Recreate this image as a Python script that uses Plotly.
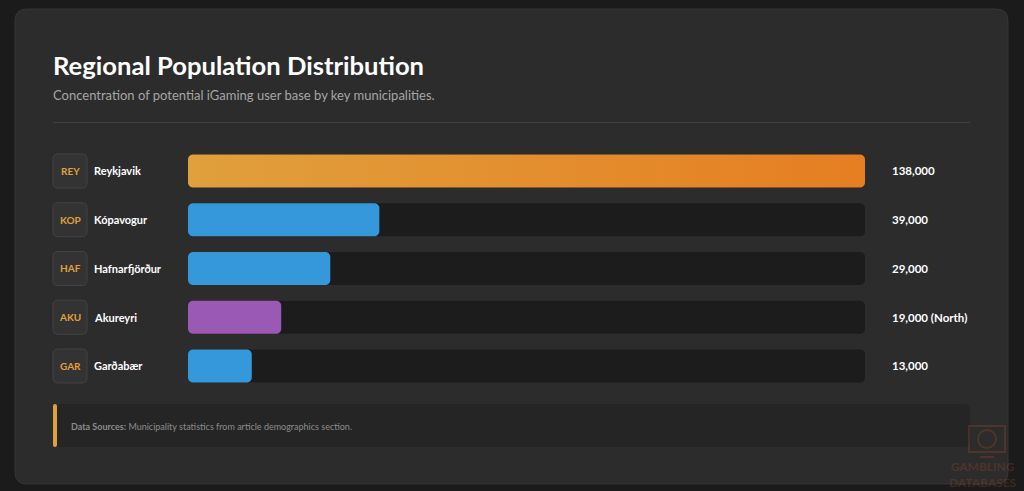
import math
import plotly.graph_objects as go

# ---------------- data ----------------
codes = ["REY", "KOP", "HAF", "AKU", "GAR"]
names = ["Reykjavik", "Kópavogur", "Hafnarfjörður", "Akureyri", "Garðabær"]
population = [138000, 39000, 29000, 19000, 13000]
value_labels = ["138,000", "39,000", "29,000", "19,000 (North)", "13,000"]
bar_colors = ["#e67e22", "#3498db", "#3498db", "#9b59b6", "#3498db"]
gradient_start = "#e0a03c"

TITLE = "Regional Population Distribution"
SUBTITLE = "Concentration of potential iGaming user base by key municipalities."

# ---------------- geometry (pixels) ----------------
W, H = 1024, 491
BAR_X0, BAR_X1 = 188, 865
ROW0, ROW_STEP = 171, 48.75
BAR_H = 33
n = len(names)
xmax = max(population)

def px(x):
    return x / W

def py(y):
    return 1 - y / H

def rr_path_px(x0, y0, x1, y1, r):
    """rounded rect path in paper coords, from pixel box"""
    return (f"M {px(x0+r)},{py(y0)} L {px(x1-r)},{py(y0)} "
            f"Q {px(x1)},{py(y0)} {px(x1)},{py(y0+r)} L {px(x1)},{py(y1-r)} "
            f"Q {px(x1)},{py(y1)} {px(x1-r)},{py(y1)} L {px(x0+r)},{py(y1)} "
            f"Q {px(x0)},{py(y1)} {px(x0)},{py(y1-r)} L {px(x0)},{py(y0+r)} "
            f"Q {px(x0)},{py(y0)} {px(x0+r)},{py(y0)} Z")

# data units per pixel
ux = xmax / (BAR_X1 - BAR_X0)
uy = 1 / ROW_STEP

def rounded_bar(v, row, r_px=5, half_h_px=BAR_H / 2, steps=8):
    rx = min(r_px * ux, v / 2)
    ry = r_px * uy
    hh = half_h_px * uy
    top, bot = row - hh, row + hh
    xs, ys = [], []
    corners = [
        (v - rx, top + ry, -math.pi / 2, 0),
        (v - rx, bot - ry, 0, math.pi / 2),
        (rx, bot - ry, math.pi / 2, math.pi),
        (rx, top + ry, math.pi, 1.5 * math.pi),
    ]
    for cx, cy, a0, a1 in corners:
        for k in range(steps + 1):
            a = a0 + (a1 - a0) * k / steps
            xs.append(cx + rx * math.cos(a))
            ys.append(cy + ry * math.sin(a))
    xs.append(xs[0]); ys.append(ys[0])
    return xs, ys

fig = go.Figure()

# tracks
for i in range(n):
    xs, ys = rounded_bar(xmax, i)
    fig.add_trace(go.Scatter(x=xs, y=ys, mode="lines", fill="toself",
                             fillcolor="#1c1c1c", line=dict(width=0, simplify=False),
                             hoverinfo="skip", showlegend=False))
# value bars
for i, v in enumerate(population):
    xs, ys = rounded_bar(v, i)
    kw = {}
    if i == 0:
        kw["fillgradient"] = dict(type="horizontal",
                                  colorscale=[[0, gradient_start], [1, bar_colors[0]]])
    fig.add_trace(go.Scatter(x=xs, y=ys, mode="lines", fill="toself",
                             fillcolor=bar_colors[i], line=dict(width=0, simplify=False),
                             hoverinfo="skip", showlegend=False, name=names[i], **kw))

shapes = []
# card
shapes.append(dict(type="path", xref="paper", yref="paper", layer="below",
                   path=rr_path_px(15, 9, 1008, 484, 12),
                   fillcolor="#2c2c2c", line=dict(color="#353535", width=1)))
# divider
shapes.append(dict(type="line", xref="paper", yref="paper", layer="below",
                   x0=px(53), x1=px(970), y0=py(122.5), y1=py(122.5),
                   line=dict(color="#404040", width=1)))
# badges
for i in range(n):
    cy = ROW0 + i * ROW_STEP
    shapes.append(dict(type="path", xref="paper", yref="paper", layer="below",
                       path=rr_path_px(53, cy - 17, 87, cy + 17, 5),
                       fillcolor="#333333", line=dict(color="#424242", width=1)))
# footnote box
shapes.append(dict(type="path", xref="paper", yref="paper", layer="below",
                   path=rr_path_px(53, 404, 970, 447, 6),
                   fillcolor="#252525", line=dict(width=0)))
shapes.append(dict(type="path", xref="paper", yref="paper", layer="below",
                   path=rr_path_px(53, 404, 57, 447, 2),
                   fillcolor="#e0a03c", line=dict(width=0)))
# watermark icon
wm = "rgba(170,75,40,0.28)"
shapes.append(dict(type="rect", xref="paper", yref="paper",
                   x0=px(969), x1=px(1005), y0=py(426), y1=py(452),
                   fillcolor="rgba(0,0,0,0)", line=dict(color=wm, width=2)))
shapes.append(dict(type="circle", xref="paper", yref="paper",
                   x0=px(978), x1=px(996), y0=py(430), y1=py(448),
                   fillcolor="rgba(0,0,0,0)", line=dict(color=wm, width=2)))
shapes.append(dict(type="line", xref="paper", yref="paper",
                   x0=px(980), x1=px(994), y0=py(457), y1=py(457),
                   line=dict(color=wm, width=2)))

ann = []
ann.append(dict(text=f"<b>{TITLE}</b>", x=px(51), y=py(65), xref="paper", yref="paper",
                xanchor="left", yanchor="middle", showarrow=False,
                font=dict(family="Lato", size=25.6, color="#ffffff")))
ann.append(dict(text=SUBTITLE, x=px(51), y=py(95), xref="paper", yref="paper",
                xanchor="left", yanchor="middle", showarrow=False,
                font=dict(family="Lato", size=13, color="#a6a6a6")))
for i in range(n):
    ann.append(dict(text=f"<b>{codes[i]}</b>", x=px(70), y=i, xref="paper", yref="y",
                    xanchor="center", yanchor="middle", showarrow=False,
                    font=dict(family="Lato", size=10, color="#e0a03c")))
    ann.append(dict(text=f"<b>{names[i]}</b>", x=px(92), y=i, xref="paper", yref="y",
                    xanchor="left", yanchor="middle", showarrow=False,
                    font=dict(family="Lato", size=11, color="#ffffff")))
    ann.append(dict(text=f"<b>{value_labels[i]}</b>", x=px(890), y=i, xref="paper", yref="y",
                    xanchor="left", yanchor="middle", showarrow=False,
                    font=dict(family="Lato", size=11.5, color="#ffffff")))
ann.append(dict(text="<b>Data Sources:</b> Municipality statistics from article demographics section.",
                x=px(69), y=py(426), xref="paper", yref="paper",
                xanchor="left", yanchor="middle", showarrow=False,
                font=dict(family="Lato", size=9, color="#8c8c8c")))
ann.append(dict(text="<b>GAMBLING<br>DATABASES</b>", x=px(983), y=py(474), xref="paper", yref="paper",
                xanchor="center", yanchor="middle", showarrow=False,
                font=dict(family="Lato", size=12, color=wm)))

fig.update_layout(
    width=W, height=H, autosize=False,
    margin=dict(l=0, r=0, t=0, b=0),
    paper_bgcolor="#1b1b1b", plot_bgcolor="rgba(0,0,0,0)",
    xaxis=dict(domain=[px(BAR_X0), px(BAR_X1)], range=[0, xmax],
               visible=False, fixedrange=True),
    yaxis=dict(domain=[py(ROW0 + (n - 0.5) * ROW_STEP), py(ROW0 - 0.5 * ROW_STEP)],
               range=[n - 0.5, -0.5], visible=False, fixedrange=True),
    shapes=shapes, annotations=ann, showlegend=False,
)

fig.write_html("out.html", config={"displayModeBar": False})
